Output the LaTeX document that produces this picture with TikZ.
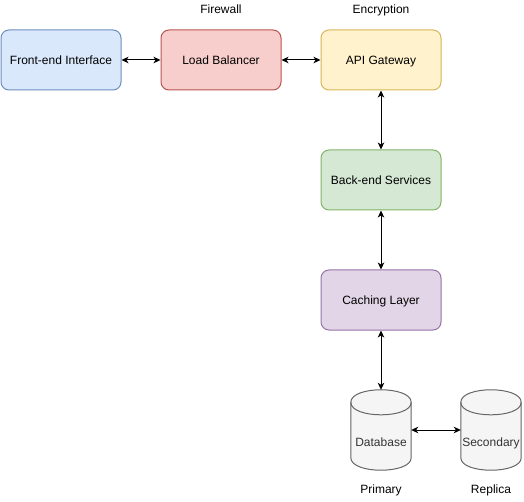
\documentclass[tikz,border=0pt]{standalone}
\usepackage{fontspec}
\setmainfont{Liberation Sans}
\usetikzlibrary{arrows.meta}
\definecolor{bluefill}{HTML}{DAE8FC}\definecolor{bluedraw}{HTML}{6C8EBF}
\definecolor{redfill}{HTML}{F8CECC}\definecolor{reddraw}{HTML}{B85450}
\definecolor{yelfill}{HTML}{FFF2CC}\definecolor{yeldraw}{HTML}{D6B656}
\definecolor{grnfill}{HTML}{D5E8D4}\definecolor{grndraw}{HTML}{82B366}
\definecolor{purfill}{HTML}{E1D5E7}\definecolor{purdraw}{HTML}{9673A6}
\definecolor{cylfill}{HTML}{F5F5F5}\definecolor{cyldraw}{HTML}{666666}
\definecolor{cyltext}{HTML}{333333}
\tikzset{
  box/.style={rectangle, rounded corners=8pt, minimum width=120pt, minimum height=60pt, line width=1pt, font=\fontsize{12}{14}\selectfont, inner sep=0pt, text height=8.6pt, text depth=0.4pt},
  lbl/.style={font=\fontsize{12}{14}\selectfont, inner sep=0pt, text height=8.6pt, text depth=0.4pt},
  cylbox/.style={rectangle, draw=none, minimum width=60pt, minimum height=80pt, inner sep=0pt},
  cylshape/.style={fill=cylfill, draw=cyldraw, line width=1pt},
  link/.style={line width=1pt, {Stealth[length=7pt,width=6.5pt,inset=2pt]}-{Stealth[length=7pt,width=6.5pt,inset=2pt]}}
}
\newcommand{\cyl}[1]{%
  \path[cylshape] ([yshift=-12.5pt]#1.north west)
    .. controls +(0,-16.7) and +(0,-16.7) .. ([yshift=-12.5pt]#1.north east)
    -- ([yshift=12.5pt]#1.south east)
    .. controls +(0,16.7) and +(0,16.7) .. ([yshift=12.5pt]#1.south west) -- cycle;
  \draw[cylshape, fill=none] ([yshift=-12.5pt]#1.north west)
    .. controls +(0,16.7) and +(0,16.7) .. ([yshift=-12.5pt]#1.north east);
}
\begin{document}
\begin{tikzpicture}[x=1pt,y=-1pt]
\useasboundingbox (0,0) rectangle (524,502);
\node[box, fill=bluefill, draw=bluedraw] (fe) at (61,60) {Front-end Interface};
\node[box, fill=redfill, draw=reddraw] (lb) at (221,60) {Load Balancer};
\node[box, fill=yelfill, draw=yeldraw] (api) at (381,60) {API Gateway};
\node[box, fill=grnfill, draw=grndraw] (be) at (381,180) {Back-end Services};
\node[box, fill=purfill, draw=purdraw] (cache) at (381,300) {Caching Layer};
\node[lbl] (fw) at (221,9) {Firewall};
\node[lbl] (enc) at (381,9) {Encryption};
\node[cylbox] (db) at (381,430) {};
\node[cylbox] (sec) at (491,430) {};
\cyl{db}
\cyl{sec}
\node[lbl, text=cyltext] (dbt) at (381,442.5) {Database};
\node[lbl, text=cyltext] (sect) at (491,442.5) {Secondary};
\node[lbl] (prim) at (381,489.5) {Primary};
\node[lbl] (rep) at (491,489.5) {Replica};
\draw[link] (fe) -- (lb);
\draw[link] (lb) -- (api);
\draw[link] (api) -- (be);
\draw[link] (be) -- (cache);
\draw[link] (cache) -- (db);
\draw[link] (db) -- (sec);
\end{tikzpicture}
\end{document}
